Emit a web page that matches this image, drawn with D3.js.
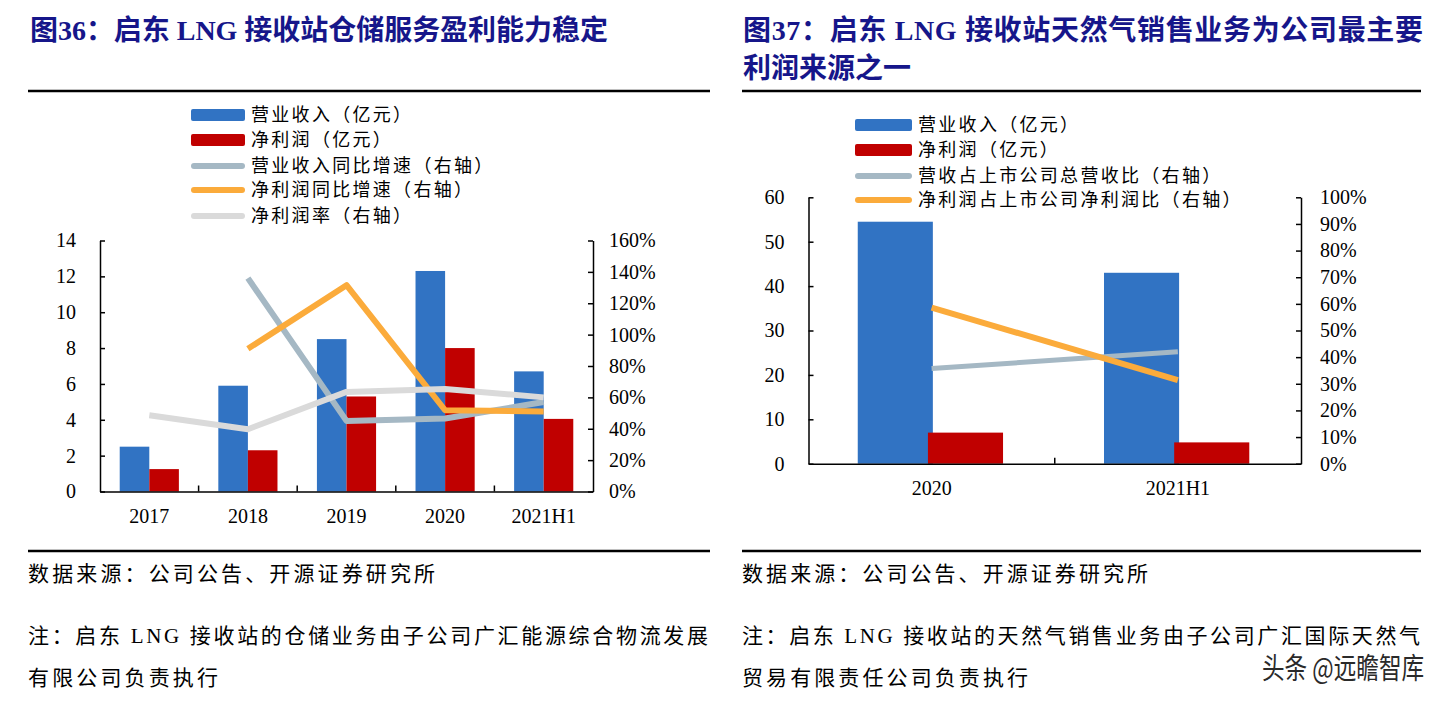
<!DOCTYPE html>
<html><head><meta charset="utf-8">
<script src="https://cdn.jsdelivr.net/npm/d3@7"></script>
<style>
html,body{margin:0;padding:0;background:#fff;}
svg{display:block;}
.serif{font-family:"Liberation Serif","Noto Sans CJK SC",serif;}
.cjk{font-family:"Noto Sans CJK SC","Liberation Serif",sans-serif;}
</style></head>
<body>
<svg id="c" width="1451" height="701"></svg>
<script>
// ---- Data ----
const cats36 = ['2017','2018','2019','2020','2021H1'];
const rev36 = [2.5, 5.9, 8.5, 12.3, 6.7];
const np36 = [1.25, 2.3, 5.3, 8.0, 4.05];
const revGrowth36 = [null, 1.36, 0.45, 0.465, 0.57];
const npGrowth36 = [null, 0.91, 1.315, 0.518, 0.51];
const margin36 = [0.486, 0.397, 0.635, 0.654, 0.60];
const ticks36L = [0,2,4,6,8,10,12,14];
const ticks36R = [0,0.2,0.4,0.6,0.8,1.0,1.2,1.4,1.6];

const cats37 = ['2020','2021H1'];
const rev37 = [54.5, 43.0];
const np37 = [7.0, 4.8];
const revShare37 = [0.357, 0.42];
const npShare37 = [0.586, 0.314];
const ticks37L = [0,10,20,30,40,50,60];
const ticks37R = [0,0.1,0.2,0.3,0.4,0.5,0.6,0.7,0.8,0.9,1.0];

const legend36 = ['营业收入（亿元）','净利润（亿元）','营业收入同比增速（右轴）','净利润同比增速（右轴）','净利润率（右轴）'];
const legend37 = ['营业收入（亿元）','净利润（亿元）','营收占上市公司总营收比（右轴）','净利润占上市公司净利润比（右轴）'];

const C = {blue:'#3173C3', red:'#C00000', grayblue:'#A5B8C4', orange:'#FBAB3B', light:'#DADADA', title:'#16168A'};

const svg = d3.select('#c');
const pct = d3.format('.0%');

// ---- Titles & rules ----
function txt(x,y,s,opt){
  const t = svg.append('text').attr('x',x).attr('y',y).text(s)
    .attr('class', opt.cls||'serif').attr('font-size',opt.size||20)
    .attr('fill',opt.fill||'#000');
  if(opt.bold) t.attr('font-weight','bold');
  if(opt.len) t.attr('textLength',opt.len).attr('lengthAdjust','spacing');
  return t;
}
txt(30,40,'图36：启东 LNG 接收站仓储服务盈利能力稳定',{size:28,bold:true,fill:C.title,len:578});
txt(743,40,'图37：启东 LNG 接收站天然气销售业务为公司最主要',{size:28,bold:true,fill:C.title,len:680});
txt(743,78,'利润来源之一',{size:28,bold:true,fill:C.title,len:168});

[[28,710],[742,1421]].forEach(([a,b])=>{
  svg.append('line').attr('x1',a).attr('x2',b).attr('y1',91).attr('y2',91).attr('stroke','#000').attr('stroke-width',2.5);
  svg.append('line').attr('x1',a).attr('x2',b).attr('y1',551).attr('y2',551).attr('stroke','#000').attr('stroke-width',2.5);
});

txt(28,581,'数据来源：公司公告、开源证券研究所',{size:21,len:407});
txt(28,643,'注：启东 LNG 接收站的仓储业务由子公司广汇能源综合物流发展',{size:21,len:680});
txt(28,685,'有限公司负责执行',{size:21,len:190});
txt(742,581,'数据来源：公司公告、开源证券研究所',{size:21,len:406});
txt(742,643,'注：启东 LNG 接收站的天然气销售业务由子公司广汇国际天然气',{size:21,len:678});
txt(742,685,'贸易有限责任公司负责执行',{size:21,len:286});

// ---- generic chart ----
function chart(cfg){
  const g = svg.append('g');
  const x = d3.scaleBand().domain(cfg.cats).range([cfg.x0,cfg.x1]).padding(0);
  const yL = d3.scaleLinear().domain([0,cfg.ticksL[cfg.ticksL.length-1]]).range([cfg.y0,cfg.y1]);
  const yR = d3.scaleLinear().domain([0,cfg.ticksR[cfg.ticksR.length-1]]).range([cfg.y0,cfg.y1]);
  const bw = x.bandwidth();

  // bars
  g.selectAll('rect.b1').data(cfg.bars[0]).join('rect')
    .attr('x',(d,i)=>x(cfg.cats[i])+bw*cfg.b1o).attr('width',bw*cfg.bwF)
    .attr('y',d=>yL(d)).attr('height',d=>yL(0)-yL(d)).attr('fill',C.blue);
  g.selectAll('rect.b2').data(cfg.bars[1]).join('rect')
    .attr('x',(d,i)=>x(cfg.cats[i])+bw*cfg.b2o).attr('width',bw*cfg.bwF)
    .attr('y',d=>yL(d)).attr('height',d=>yL(0)-yL(d)).attr('fill',C.red);

  // axes
  const fontNum = 20;
  const axL = g.append('g').attr('transform',`translate(${cfg.x0},0)`)
    .call(d3.axisLeft(yL).tickValues(cfg.ticksL).tickSize(-5).tickSizeOuter(0).tickPadding(cfg.padL));
  const axR = g.append('g').attr('transform',`translate(${cfg.x1},0)`)
    .call(d3.axisRight(yR).tickValues(cfg.ticksR).tickFormat(pct).tickSize(-5).tickSizeOuter(0).tickPadding(cfg.padR));
  const axB = g.append('g').attr('transform',`translate(0,${cfg.y0})`)
    .call(d3.axisBottom(x).tickSize(0).tickPadding(17));
  [axL,axR,axB].forEach(a=>{
    a.selectAll('text').attr('class','serif').attr('font-size',fontNum).attr('fill','#000').attr('font-family',null);
    a.selectAll('path,line').attr('stroke','#000').attr('stroke-width',1.5);
    a.attr('font-family',null);
  });
  // category boundary ticks (inward)
  g.selectAll('line.bt').data(cfg.cats.slice(1)).join('line')
    .attr('x1',d=>x(d)).attr('x2',d=>x(d)).attr('y1',cfg.y0).attr('y2',cfg.y0-6)
    .attr('stroke','#000').attr('stroke-width',1.5);

  // lines
  cfg.lines.forEach(L=>{
    const line = d3.line().defined(d=>d!=null)
      .x((d,i)=>x(cfg.cats[i])+bw/2).y(d=>yR(d));
    g.append('path').datum(L.data).attr('d',line).attr('fill','none')
      .attr('stroke',L.color).attr('stroke-width',L.w).attr('stroke-linejoin','round');
  });

  // legend
  cfg.legend.forEach((s,i)=>{
    const y = cfg.legY[i];
    const it = cfg.legItems[i];
    if(it.type==='rect'){
      g.append('rect').attr('x',cfg.legX).attr('y',y-6).attr('width',cfg.legW).attr('height',12)
        .attr('rx',2).attr('fill',it.color);
    } else {
      g.append('line').attr('x1',cfg.legX+3).attr('x2',cfg.legX+cfg.legW-3).attr('y1',y).attr('y2',y)
        .attr('stroke',it.color).attr('stroke-width',6).attr('stroke-linecap','round');
    }
    g.append('text').attr('x',cfg.legX+cfg.legW+6).attr('y',y).attr('dy','0.35em')
      .attr('class','cjk').attr('font-size',18).attr('letter-spacing',2.3).attr('fill','#000').text(s);
  });
}

chart({
  cats:cats36, x0:100, x1:593, y0:491.5, y1:240.5,
  ticksL:ticks36L, ticksR:ticks36R, padL:24, padR:16,
  bars:[rev36,np36], b1o:0.2, b2o:0.5, bwF:0.3,
  lines:[
    {data:revGrowth36,color:C.grayblue,w:6},
    {data:npGrowth36,color:C.orange,w:6},
    {data:margin36,color:C.light,w:6}
  ],
  legend:legend36, legX:191, legW:54, legY:[115,140,166,190,216],
  legItems:[{type:'rect',color:C.blue},{type:'rect',color:C.red},{type:'line',color:C.grayblue},{type:'line',color:C.orange},{type:'line',color:C.light}]
});

chart({
  cats:cats37, x0:808.5, x1:1301, y0:463.7, y1:197.3,
  ticksL:ticks37L, ticksR:ticks37R, padL:24, padR:19,
  bars:[rev37,np37], b1o:0.2, b2o:0.485, bwF:0.305,
  lines:[
    {data:revShare37,color:C.grayblue,w:5},
    {data:npShare37,color:C.orange,w:6}
  ],
  legend:legend37, legX:855, legW:57, legY:[125,150,176,200],
  legItems:[{type:'rect',color:C.blue},{type:'rect',color:C.red},{type:'line',color:C.grayblue},{type:'line',color:C.orange}]
});

// watermark (condensed via horizontal scale)
svg.append('text').attr('transform','translate(1262,679) scale(0.78,1)').attr('class','cjk').attr('font-size',29)
  .attr('fill','#2a2a2a').attr('stroke','#fff').attr('stroke-width',1.5).attr('paint-order','stroke')
  .text('头条 @远瞻智库');
</script>
</body></html>
